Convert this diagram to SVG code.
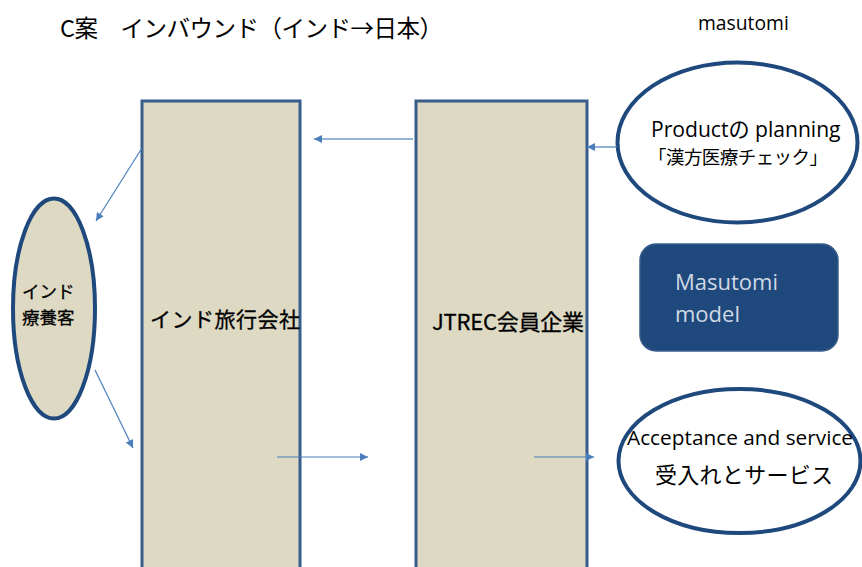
<svg xmlns="http://www.w3.org/2000/svg" width="862" height="567" viewBox="0 0 862 567">
<defs>
<style>
.box{fill:#DDD9C3;stroke:#385D8A;stroke-width:3}
.ell{stroke:#1F497D;stroke-width:4}
.ln{stroke:#4A7EBB;stroke-width:1.2;fill:none}
.lt{stroke:#95B3D7;stroke-width:2;fill:none}
.t{font-family:"Open Sans","Noto Sans","Noto Sans CJK JP",sans-serif;fill:#000}
.j{font-family:"Noto Sans CJK JP","Noto Sans",sans-serif;fill:#000}
.w{font-family:"Open Sans","Noto Sans",sans-serif;fill:#D0D8E4;font-size:22px}
</style>
<marker id="ah" viewBox="0 0 10 10" refX="10" refY="5" markerWidth="9" markerHeight="8" markerUnits="userSpaceOnUse" orient="auto">
<path d="M0,0 L10,5 L0,10 z" fill="#4A7EBB"/>
</marker>
</defs>
<rect width="862" height="567" fill="#FFFFFF"/>
<text class="j" x="60" y="37" font-size="23.5" textLength="383">C案　インバウンド（インド→日本）</text>
<text class="t" x="698" y="30" font-size="19.3">masutomi</text>

<g id="node-india-agency">
<rect class="box" x="142" y="101" width="158" height="480"/>
<text class="j" x="150" y="327" font-size="21" stroke="#000" stroke-width="0.3" textLength="150">インド旅行会社</text>
</g>
<g id="node-jtrec">
<rect class="box" x="416" y="101" width="171" height="480"/>
<text class="j" x="432" y="330" font-size="22" stroke="#000" stroke-width="0.3" textLength="152">JTREC会員企業</text>
</g>
<g id="node-patient">
<ellipse class="ell" cx="54" cy="308.5" rx="41" ry="110" fill="#DDD9C3"/>
<text class="j" x="22" y="298" font-size="17.5" stroke="#000" stroke-width="0.3">インド</text>
<text class="j" x="22" y="324" font-size="17.5" stroke="#000" stroke-width="0.3">療養客</text>
</g>
<g id="node-product">
<ellipse class="ell" cx="737.5" cy="142.5" rx="120" ry="80" fill="#FFFFFF"/>
<text class="t" x="651" y="137" font-size="21.1">Productの planning</text>
<text class="j" x="648" y="164" font-size="18.5" textLength="180">「漢方医療チェック」</text>
</g>
<g id="node-model">
<rect x="640" y="244" width="198" height="107" rx="16" fill="#1F497D" stroke="#385D8A" stroke-width="1.5"/>
<text class="w" x="675" y="290">Masutomi</text>
<text class="w" x="675" y="322">model</text>
</g>
<g id="node-acceptance">
<ellipse class="ell" cx="739.5" cy="461" rx="121" ry="72" fill="#FFFFFF"/>
<text class="t" x="627" y="445" font-size="20.8">Acceptance and service</text>
<text class="j" x="655" y="483" font-size="22" textLength="178">受入れとサービス</text>
</g>

<g id="connectors">
<line class="lt" x1="413" y1="139" x2="314" y2="139" marker-end="url(#ah)"/>
<line class="ln" x1="617" y1="147" x2="587" y2="147" marker-end="url(#ah)"/>
<line class="ln" x1="142" y1="148" x2="96" y2="221" marker-end="url(#ah)"/>
<line class="ln" x1="95" y1="370" x2="133" y2="448" marker-end="url(#ah)"/>
<line class="ln" x1="277" y1="457" x2="368" y2="457" marker-end="url(#ah)"/>
<line class="ln" x1="534" y1="457" x2="594" y2="457" marker-end="url(#ah)"/>
</g>
</svg>
